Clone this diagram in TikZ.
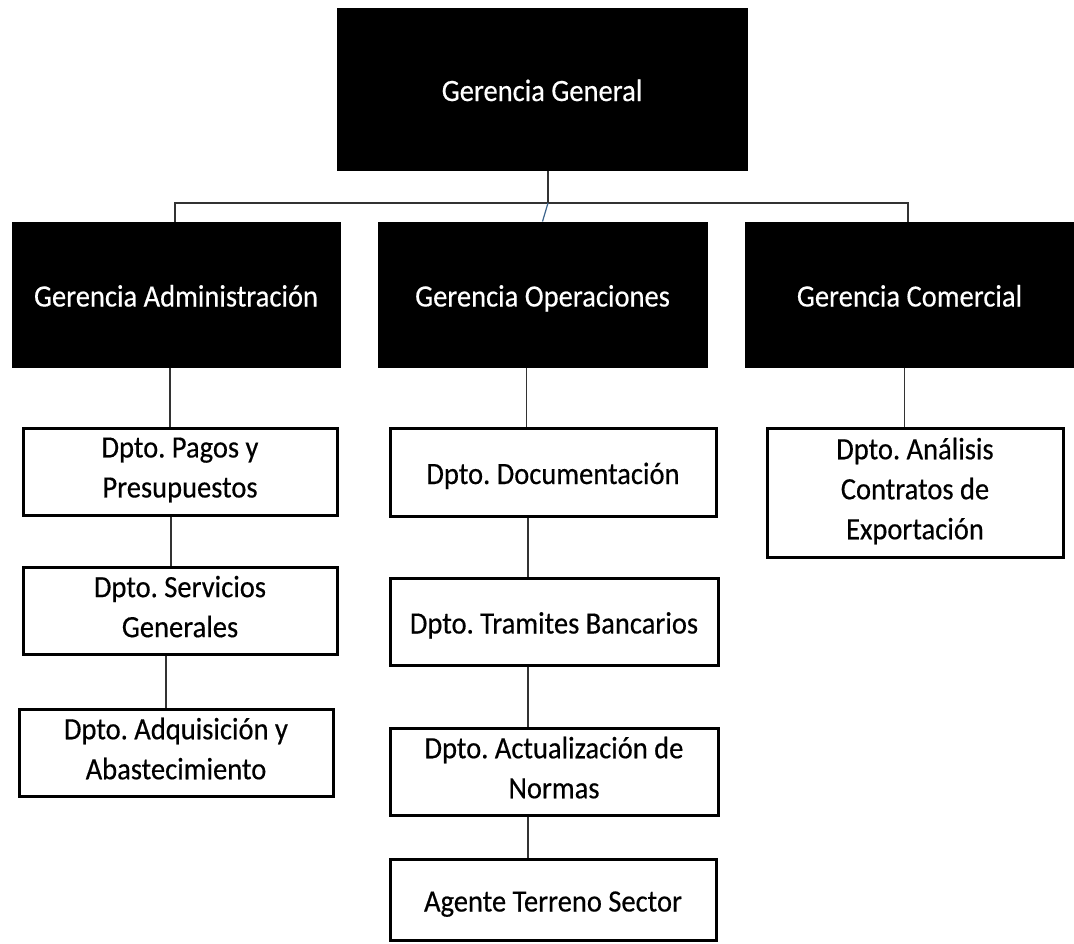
\documentclass[tikz,border=0pt]{standalone}
\usepackage{fontspec}
\setmainfont{Carlito}[FakeStretch=0.92,FakeBold=0.4]
\usetikzlibrary{calc}
\newcommand\mytopstrut{\rule{0pt}{32pt}}
\newcommand\mybotstrut{\rule[-8pt]{0pt}{8pt}}
\begin{document}
\begin{tikzpicture}[x=1pt,y=-1pt,
  every node/.style={font=\fontsize{31}{40}\selectfont\frenchspacing, align=center, inner sep=0pt,
    execute at begin node=\mytopstrut, execute at end node=\mybotstrut},
  darkbox/.style={fill=black, draw=black, line width=1pt, text=white, minimum height=145pt, minimum width=329pt},
  deptbox/.style={fill=white, draw=black, line width=3pt, minimum width=326pt, minimum height=87pt},
  link/.style={draw=black!80, line width=1.5pt}]
\useasboundingbox (0,0) rectangle (1074,943);
\fill[white] (0,0) rectangle (1074,943);
% top
\node[darkbox, minimum width=410pt, minimum height=162pt] (gg) at (542,89) {Gerencia General};
% second row
\node[darkbox, minimum width=328pt] (ga) at (176,294.5) {Gerencia Administración};
\node[darkbox] (go) at (542.5,294.5) {Gerencia Operaciones};
\node[darkbox] (gc) at (909.5,294.5) {Gerencia Comercial};
% administration column
\node[deptbox, minimum width=314pt] (p1) at (180,471.5) {Dpto. Pagos y\\Presupuestos};
\node[deptbox, minimum width=314pt] (p2) at (180,610.5) {Dpto. Servicios\\Generales};
\node[deptbox, minimum width=314pt] (p3) at (176,752.5) {Dpto. Adquisición y\\Abastecimiento};
% operations column
\node[deptbox, minimum height=88pt] (o1) at (553,472) {Dpto. Documentación};
\node[deptbox, minimum width=328pt] (o2) at (554,621.5) {Dpto. Tramites Bancarios};
\node[deptbox, minimum width=328pt] (o3) at (554,771.5) {Dpto. Actualización de\\Normas};
\node[deptbox, minimum height=81pt] (o4) at (553,899.5) {Agente Terreno Sector};
% commercial column
\node[deptbox, minimum width=296pt, minimum height=129pt] (c1) at (915,492.5) {Dpto. Análisis\\Contratos de\\Exportación};
% bus
\coordinate (busL) at (175,203);
\coordinate (busR) at (908,203);
\draw[link, line width=2pt] (busL |- ga.north) -- (busL) -- (busR) -- (busR |- gc.north);
\draw[link] ([xshift=6pt]gg.south) -- ([xshift=6pt]gg.south |- busL);
\draw[draw={rgb,255:red,60;green,100;blue,140}, line width=1.2pt] ([xshift=6pt]gg.south |- busL) -- (go.north);
% column links
\draw[link] ([xshift=-6pt]ga.south) -- ([xshift=-6pt]ga.south |- p1.north);
\draw[link] ([xshift=-9pt]p1.south) -- ([xshift=-9pt]p1.south |- p2.north);
\draw[link] ([xshift=-14pt]p2.south) -- ([xshift=-14pt]p2.south |- p3.north);
\draw[link] ([xshift=-16pt]go.south) -- ([xshift=-16pt]go.south |- o1.north);
\draw[link] ([xshift=-25pt]o1.south) -- ([xshift=-25pt]o1.south |- o2.north);
\draw[link] ([xshift=-26pt]o2.south) -- ([xshift=-26pt]o2.south |- o3.north);
\draw[link] ([xshift=-26pt]o3.south) -- ([xshift=-26pt]o3.south |- o4.north);
\draw[link] ([xshift=-5pt]gc.south) -- ([xshift=-5pt]gc.south |- c1.north);
\end{tikzpicture}
\end{document}
